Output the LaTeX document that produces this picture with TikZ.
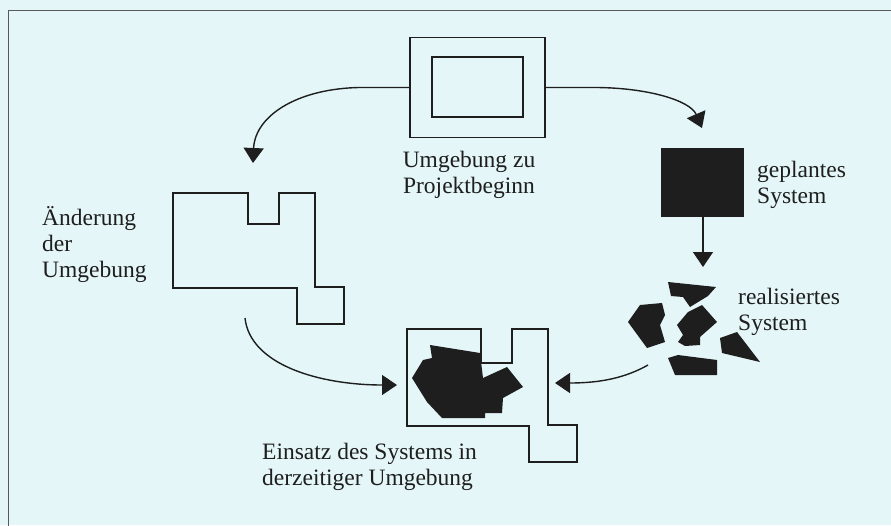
\documentclass[tikz,border=0pt]{standalone}
\usepackage{fontspec}
\setmainfont{Liberation Serif}
\usetikzlibrary{arrows.meta}
\definecolor{bg}{RGB}{228,246,248}
\definecolor{ink}{RGB}{30,30,30}
\begin{document}
\begin{tikzpicture}[x=1pt,y=-1pt,
  outline/.style={draw=ink,line width=1.5pt},
  blob/.style={fill=ink,draw=none},
  conn/.style={draw=ink,line width=1.4pt,-{Triangle[width=20pt,length=15pt]}},
  lbl/.style={inner sep=0pt,font=\fontsize{23.5}{26}\selectfont,text=ink}]
\useasboundingbox (0,0) rectangle (891,525);
\fill[bg] (0,0) rectangle (891,525);
\draw[gray!70!black,line width=1pt] (8,530) -- (8,10) -- (895,10);

% top environment box
\node[outline,minimum width=135pt,minimum height=100pt,inner sep=0pt] (env) at (477.5,87.5) {};
\node[outline,minimum width=91pt,minimum height=60pt,inner sep=0pt] (envin) at (477.5,87) {};
\node[lbl,align=center,anchor=north] (envtxt) at (469,149) {\rule{0pt}{18pt}Umgebung zu\\Projektbeginn};

% planned system
\node[blob,minimum width=83pt,minimum height=69pt,inner sep=0pt] (plan) at (702.5,182.5) {};
\node[lbl,align=left,anchor=north west] (plantxt) at (757,159) {\rule{0pt}{18pt}geplantes\\System};

% changed environment polygon
\draw[outline] (173,193) -- (248,193) -- (248,224) -- (279,224) -- (279,193) -- (315,193)
  -- (315,287) -- (344,287) -- (344,324) -- (297,324) -- (297,288) -- (173,288) -- cycle;
\node[lbl,align=left,anchor=north west] (chtxt) at (42,206) {\rule{0pt}{18pt}Änderung\\der\\Umgebung};

% realised system pieces
\fill[ink] (668,282) -- (716,287) -- (708,296) -- (690,307) -- (683,297) -- (671,296) -- cycle;
\fill[ink] (628,322) -- (640,305) -- (662,303) -- (665,315) -- (660,325) -- (665,342) -- (647,348) -- cycle;
\fill[ink] (677,325) -- (688,312) -- (702,305) -- (717,322) -- (700,337) -- (700,345) -- (685,346) -- (678,342) -- (683,335) -- cycle;
\fill[ink] (720,338) -- (737,332) -- (760,362) -- (722,353) -- cycle;
\fill[ink] (668,358) -- (678,355) -- (717,360) -- (717,375) -- (675,375) -- cycle;
\node[lbl,align=left,anchor=north west] (realtxt) at (738,286) {\rule{0pt}{18pt}realisiertes\\System};

% deployment polygon
\draw[outline] (407,329) -- (481,329) -- (481,363) -- (512,363) -- (512,329) -- (548,329)
  -- (548,425) -- (577,425) -- (577,462) -- (529,462) -- (529,426) -- (407,426) -- cycle;
\fill[ink] (430,345) -- (480,353) -- (483,378) -- (507,367) -- (523,387) -- (503,398) -- (502,413)
  -- (485,413) -- (485,418) -- (442,418) -- (427,402) -- (412,378) -- (423,360) -- (432,358) -- cycle;
\node[lbl,align=left,anchor=north west] (deptxt) at (262,441) {\rule{0pt}{18pt}Einsatz des Systems in\\derzeitiger Umgebung};

% connector end points
\coordinate (tipL) at (253,163);
\coordinate (tipR) at (702,128);
\coordinate (tipD) at (703,267);
\coordinate (startBL) at (245,318);
\coordinate (tipBL) at (397,385);
\coordinate (startBR) at (648,365);
\coordinate (tipBR) at (555,383);

\draw[conn] (env.west) -- ++(-40,0) .. controls (300,86) and (255,115) .. (tipL);
\draw[conn] (env.east) -- ++(45,0) .. controls (645,87) and (690,100) .. (tipR);
\draw[conn] (plan.south -| tipD) -- (tipD);
\draw[conn] (startBL) .. controls (250,365) and (320,385) .. (tipBL);
\draw[conn] (startBR) .. controls (625,378) and (600,383) .. (tipBR);
\end{tikzpicture}
\end{document}
